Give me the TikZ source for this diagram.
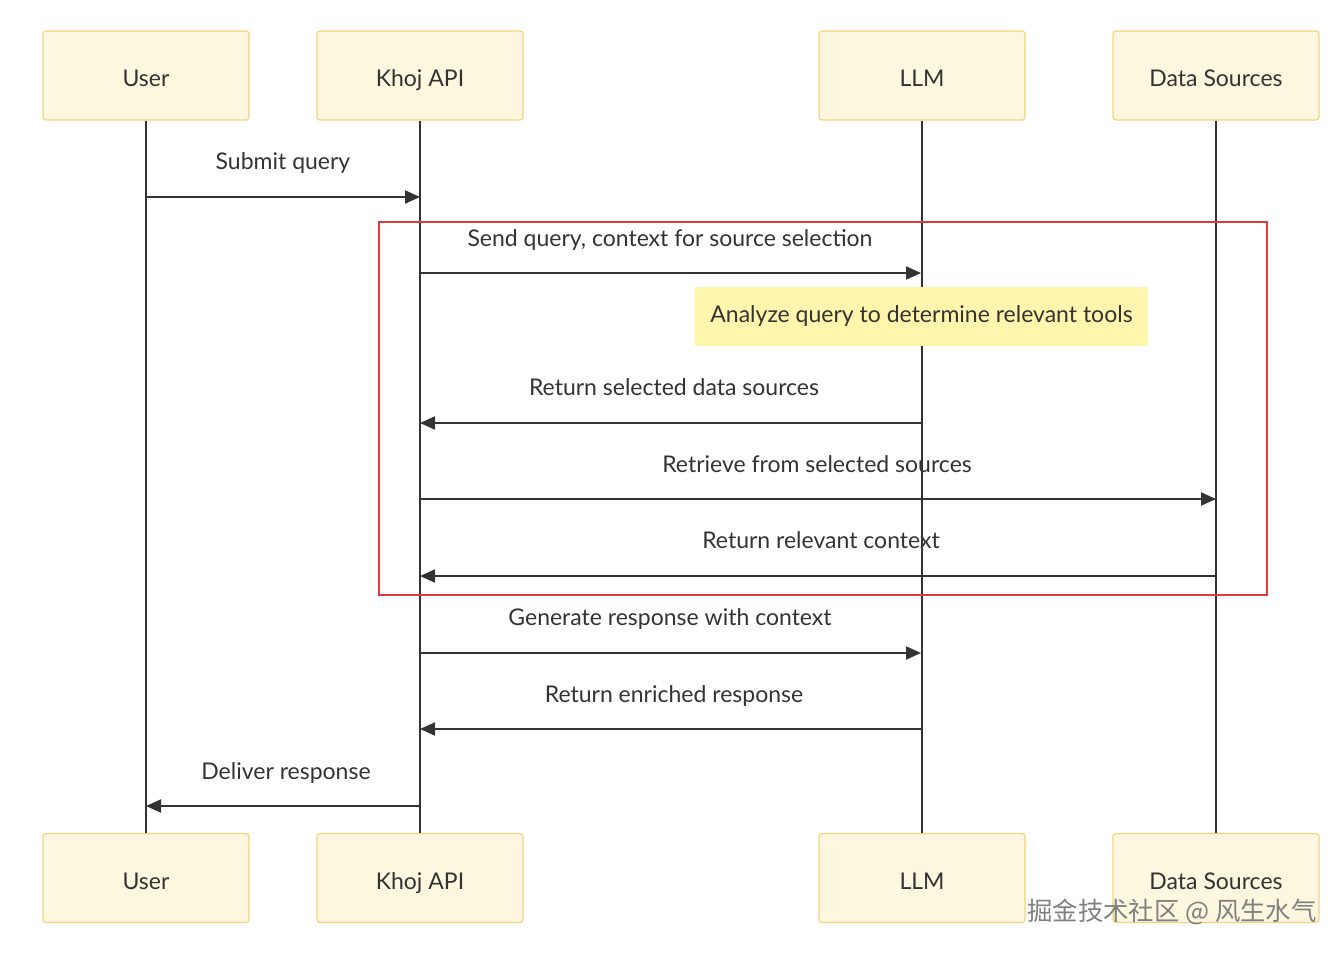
\documentclass[tikz,border=0pt]{standalone}
\usepackage{fontspec}
\setmainfont{Lato}
\newfontfamily\cjk{Noto Sans CJK SC}
\usetikzlibrary{arrows.meta}
\definecolor{actfill}{HTML}{FDF7DF}
\definecolor{actdraw}{HTML}{F3D47E}
\definecolor{notefill}{HTML}{FFF5AD}
\definecolor{linec}{HTML}{333333}
\definecolor{redbox}{HTML}{E2393F}
\definecolor{txt}{HTML}{333333}
\begin{document}
\begin{tikzpicture}[x=0.5pt,y=-0.5pt,
  actor/.style={draw=actdraw,fill=actfill,line width=0.6pt,rounded corners=1.5pt,minimum width=103pt,minimum height=44.5pt,inner sep=0pt},
  atext/.style={font=\fontsize{11.5}{13}\selectfont,text=txt,inner sep=0pt,anchor=base},
  life/.style={draw=linec,line width=1.1pt},
  msg/.style={draw=linec,line width=1pt,-{Triangle[length=7.5pt,width=6.5pt]}},
  lbl/.style={font=\fontsize{11.5}{13}\selectfont,text=txt,inner sep=0pt,anchor=base},
  notebox/.style={fill=notefill,draw=none,minimum width=226.5pt,minimum height=29.5pt,inner sep=0pt}]
\useasboundingbox (0,0) rectangle (1340,953);
% actors
\node[actor] (userT) at (146,75.5) {};
\node[actor] (apiT) at (420,75.5) {};
\node[actor] (llmT) at (922,75.5) {};
\node[actor] (dsT) at (1216,75.5) {};
\node[actor] (userB) at (146,878) {};
\node[actor] (apiB) at (420,878) {};
\node[actor] (llmB) at (922,878) {};
\node[actor] (dsB) at (1216,878) {};
\node[atext] (tUT) at (146,86.5) {User};
\node[atext] (tAT) at (420,86.5) {Khoj API};
\node[atext] (tLT) at (922,86.5) {LLM};
\node[atext] (tDT) at (1216,86.5) {Data Sources};
\node[atext] (tUB) at (146,889) {User};
\node[atext] (tAB) at (420,889) {Khoj API};
\node[atext] (tLB) at (922,889) {LLM};
\node[atext] (tDB) at (1216,889) {Data Sources};
% labels
\node[lbl] (l1) at (283,169) {Submit query};
\node[lbl] (l2) at (670,246) {Send query, context for source selection};
\node[lbl] (l3) at (674,395) {Return selected data sources};
\node[lbl] (l4) at (817,472) {Retrieve from selected sources};
\node[lbl] (l5) at (821,548) {Return relevant context};
\node[lbl] (l6) at (670,625) {Generate response with context};
\node[lbl] (l7) at (674,702) {Return enriched response};
\node[lbl] (l8) at (286,779) {Deliver response};
% lifelines
\draw[life] (userT.south) -- (userB.north);
\draw[life] (apiT.south) -- (apiB.north);
\draw[life] (llmT.south) -- (llmB.north);
\draw[life] (dsT.south) -- (dsB.north);
% note
\node[notebox] (note) at (921.5,316.5) {};
\node[lbl] (nt) at (921.5,322.5) {Analyze query to determine relevant tools};
% message endpoints
\coordinate (u1) at (146,197); \coordinate (a1) at (420,197);
\coordinate (a2) at (420,273); \coordinate (m2) at (921,273);
\coordinate (m3) at (921,423); \coordinate (a3) at (420,423);
\coordinate (a4) at (420,499); \coordinate (d4) at (1216,499);
\coordinate (d5) at (1216,576); \coordinate (a5) at (420,576);
\coordinate (a6) at (420,653); \coordinate (m6) at (921,653);
\coordinate (m7) at (921,729); \coordinate (a7) at (420,729);
\coordinate (a8) at (420,806); \coordinate (u8) at (146,806);
\draw[msg] (u1) -- (a1);
\draw[msg] (a2) -- (m2);
\draw[msg] (m3) -- (a3);
\draw[msg] (a4) -- (d4);
\draw[msg] (d5) -- (a5);
\draw[msg] (a6) -- (m6);
\draw[msg] (m7) -- (a7);
\draw[msg] (a8) -- (u8);
% red highlight
\draw[redbox,line width=1.3pt] (379,222) rectangle (1267,595);
% watermark
\node[font=\cjk\fontsize{12.7}{14}\selectfont,text=black!50,inner sep=0pt] (wm) at (1172,912) {掘金技术社区 @ 风生水气};
\end{tikzpicture}
\end{document}
